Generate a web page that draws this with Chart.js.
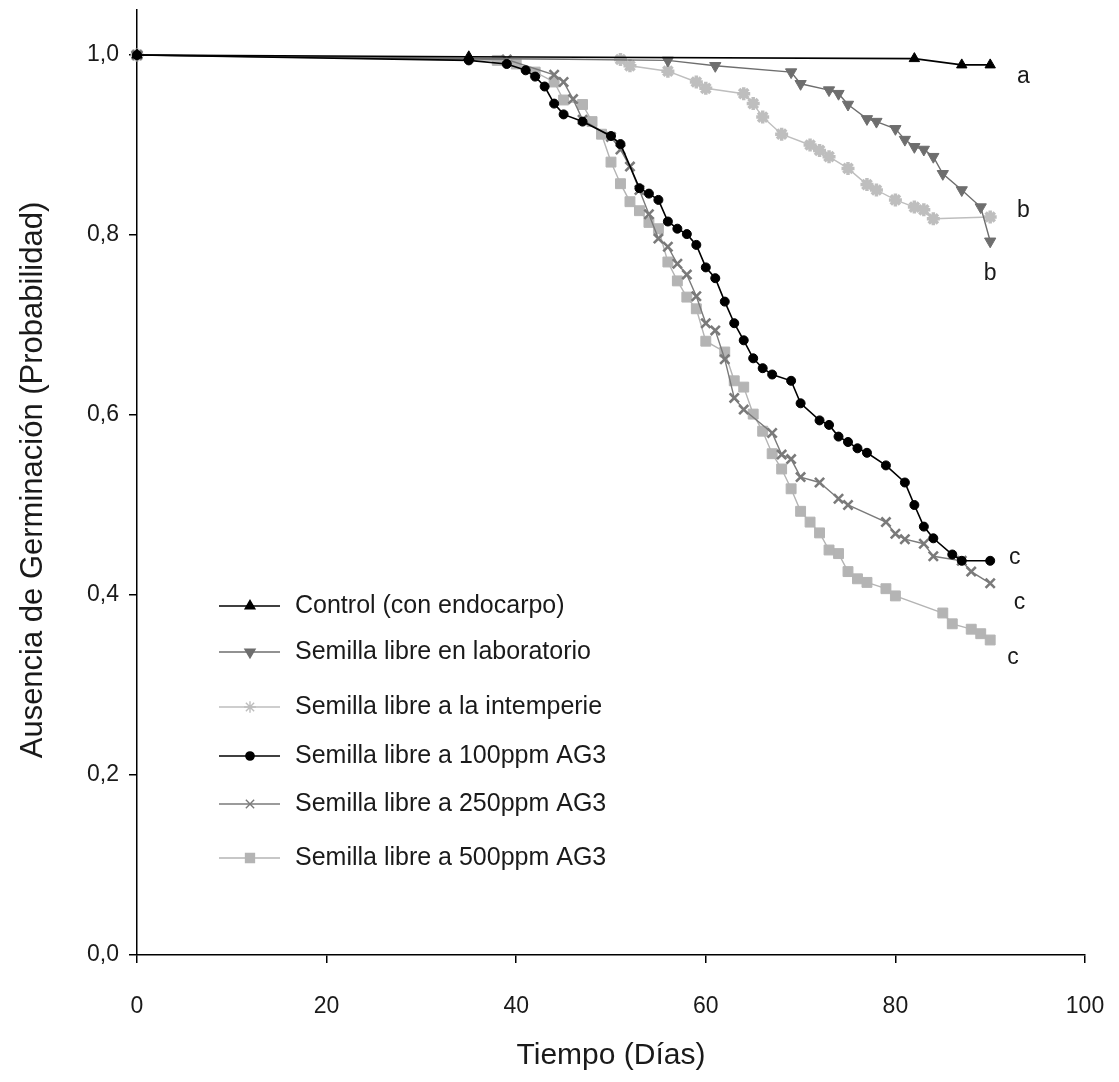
<!DOCTYPE html>
<html lang="es">
<head>
    <meta charset="UTF-8">
    <title>Ausencia de Germinación</title>
    <script src="https://cdn.jsdelivr.net/npm/chart.js"></script>
    <style>
        body { margin: 0; background: #fff; }
        #wrap { width: 1119px; height: 1082px; }
    </style>
</head>
<body>
    <div id="wrap"><canvas id="germChart" width="1119" height="1082"></canvas></div>
    <script>
        // Days and survival probabilities
        const controlDays = [0, 35, 82, 87, 90];
        const controlValues = [1.0, 0.998, 0.996, 0.989, 0.989];

        const labDays = [0, 56, 61, 69, 70, 73, 74, 75, 77, 78, 80, 81, 82, 83, 84, 85, 87, 89, 90];
        const labValues = [1.0, 0.994, 0.988, 0.981, 0.968, 0.961, 0.957, 0.945, 0.929, 0.926, 0.918, 0.906, 0.898, 0.895, 0.887, 0.868, 0.850, 0.831, 0.793];

        const outdoorDays = [0, 51, 52, 56, 59, 60, 64, 65, 66, 68, 71, 72, 73, 75, 77, 78, 80, 82, 83, 84, 90];
        const outdoorValues = [1.0, 0.995, 0.988, 0.982, 0.970, 0.963, 0.957, 0.946, 0.931, 0.912, 0.900, 0.894, 0.887, 0.874, 0.856, 0.850, 0.839, 0.831, 0.828, 0.818, 0.820];

        const ag100Days = [0, 35, 39, 41, 42, 43, 44, 45, 47, 50, 51, 53, 54, 55, 56, 57, 58, 59, 60, 61, 62, 63, 64, 65, 66, 67, 69, 70, 72, 73, 74, 75, 76, 77, 79, 81, 82, 83, 84, 86, 87, 90];
        const ag100Values = [1.0, 0.994, 0.990, 0.983, 0.976, 0.965, 0.946, 0.934, 0.926, 0.910, 0.901, 0.852, 0.846, 0.839, 0.815, 0.807, 0.801, 0.789, 0.764, 0.752, 0.726, 0.702, 0.683, 0.663, 0.652, 0.645, 0.638, 0.613, 0.594, 0.589, 0.576, 0.570, 0.563, 0.558, 0.544, 0.525, 0.500, 0.476, 0.463, 0.445, 0.438, 0.438];

        const ag250Days = [0, 39, 44, 45, 46, 47, 50, 51, 52, 53, 54, 55, 56, 57, 58, 59, 60, 61, 62, 63, 64, 67, 68, 69, 70, 72, 74, 75, 79, 80, 81, 83, 84, 87, 88, 90];
        const ag250Values = [1.0, 0.995, 0.978, 0.970, 0.951, 0.928, 0.909, 0.895, 0.876, 0.850, 0.823, 0.796, 0.787, 0.768, 0.756, 0.732, 0.702, 0.694, 0.662, 0.619, 0.606, 0.580, 0.556, 0.551, 0.531, 0.525, 0.507, 0.500, 0.481, 0.468, 0.462, 0.457, 0.443, 0.438, 0.426, 0.413];

        const ag500Days = [0, 38, 40, 42, 44, 45, 47, 48, 49, 50, 51, 52, 53, 54, 55, 56, 57, 58, 59, 60, 62, 63, 64, 65, 66, 67, 68, 69, 70, 71, 72, 73, 74, 75, 76, 77, 79, 80, 85, 86, 88, 89, 90];
        const ag500Values = [1.0, 0.994, 0.990, 0.981, 0.970, 0.950, 0.945, 0.926, 0.912, 0.881, 0.857, 0.837, 0.827, 0.814, 0.807, 0.770, 0.749, 0.731, 0.718, 0.682, 0.670, 0.638, 0.631, 0.601, 0.582, 0.557, 0.540, 0.518, 0.493, 0.481, 0.469, 0.450, 0.446, 0.426, 0.418, 0.414, 0.407, 0.399, 0.380, 0.368, 0.362, 0.357, 0.350];

        const seriesNames = [
            'Control (con endocarpo)',
            'Semilla libre en laboratorio',
            'Semilla libre a la intemperie',
            'Semilla libre a 100ppm AG3',
            'Semilla libre a 250ppm AG3',
            'Semilla libre a 500ppm AG3'
        ];
        const yTicks = [0, 0.2, 0.4, 0.6, 0.8, 1.0];

        // significance letters next to the curve ends
        const letterDays = [93.5, 93.5, 90, 92.6, 93.1, 92.4];
        const letterValues = [0.976, 0.827, 0.757, 0.441, 0.392, 0.330];
        const letterTexts = ['a', 'b', 'b', 'c', 'c', 'c'];

        const FONT = '"Liberation Sans", Arial, sans-serif';

        function toPoints(days, values) {
            return days.map((d, i) => ({ x: d, y: values[i] }));
        }

        const styles = [
            { color: '#000000', point: 'triangle', rot: 0, r: 6, bw: 1, lw: 1.6 },
            { color: '#6e6e6e', point: 'triangle', rot: 180, r: 6.5, bw: 1, lw: 1.4 },
            { color: '#bebebe', point: 'star', rot: 0, r: 6.5, bw: 3.5, lw: 1.4 },
            { color: '#000000', point: 'circle', rot: 0, r: 4.5, bw: 1, lw: 1.6 },
            { color: '#7a7a7a', point: 'crossRot', rot: 0, r: 6.5, bw: 2.6, lw: 1.4 },
            { color: '#b4b4b4', point: 'rect', rot: 0, r: 7, bw: 1, lw: 1.4 }
        ];

        const allData = [
            toPoints(controlDays, controlValues),
            toPoints(labDays, labValues),
            toPoints(outdoorDays, outdoorValues),
            toPoints(ag100Days, ag100Values),
            toPoints(ag250Days, ag250Values),
            toPoints(ag500Days, ag500Values)
        ];

        // draw order: lightest first so the dark curves stay on top
        const drawOrder = [5, 2, 4, 1, 3, 0];

        const datasets = allData.map((pts, i) => ({
            label: seriesNames[i],
            data: pts,
            borderColor: styles[i].color,
            backgroundColor: styles[i].color,
            pointBackgroundColor: styles[i].color,
            pointBorderColor: styles[i].color,
            pointStyle: styles[i].point,
            pointRotation: styles[i].rot,
            pointRadius: styles[i].r,
            pointBorderWidth: styles[i].bw,
            borderWidth: styles[i].lw,
            tension: 0,
            order: 10 - drawOrder.indexOf(i),
            clip: false
        }));

        // legend rows inside the plot
        const legendRowsY = [606, 652, 707, 756, 804, 858];

        const overlay = {
            id: 'overlay',
            afterDraw(chart) {
                const ctx = chart.ctx;
                const xs = chart.scales.x;
                const ys = chart.scales.y;
                ctx.save();

                // legend
                legendRowsY.forEach((y, i) => {
                    const s = styles[i];
                    ctx.strokeStyle = s.color;
                    ctx.lineWidth = s.lw;
                    ctx.beginPath();
                    ctx.moveTo(219, y);
                    ctx.lineTo(280, y);
                    ctx.stroke();
                    ctx.fillStyle = s.color;
                    Chart.helpers.drawPoint(ctx, {
                        pointStyle: s.point,
                        rotation: s.rot,
                        radius: s.r * 0.9,
                        borderWidth: s.bw
                    }, 250, y);
                    ctx.fillStyle = '#1a1a1a';
                    ctx.font = '25px ' + FONT;
                    ctx.textAlign = 'left';
                    ctx.textBaseline = 'middle';
                    ctx.fillText(seriesNames[i], 295, y);
                });

                // letters
                ctx.font = '23px ' + FONT;
                ctx.fillStyle = '#1a1a1a';
                ctx.textAlign = 'center';
                ctx.textBaseline = 'middle';
                letterTexts.forEach((t, i) => {
                    ctx.fillText(t, xs.getPixelForValue(letterDays[i]), ys.getPixelForValue(letterValues[i]));
                });

                // axis titles
                ctx.font = '30px ' + FONT;
                ctx.fillText('Tiempo (Días)', 611, 1056);
                ctx.translate(33, 480);
                ctx.rotate(-Math.PI / 2);
                ctx.font = '31px ' + FONT;
                ctx.fillText('Ausencia de Germinación (Probabilidad)', 0, 0);
                ctx.restore();
            }
        };

        new Chart(document.getElementById('germChart'), {
            type: 'line',
            data: { datasets },
            options: {
                responsive: false,
                animation: false,
                layout: { padding: { top: 8, right: 34, left: 0, bottom: 0 } },
                plugins: {
                    legend: { display: false },
                    tooltip: { enabled: false }
                },
                scales: {
                    x: {
                        type: 'linear',
                        min: 0,
                        max: 100,
                        afterFit: s => {
                            s.height = 127;
                            s.paddingLeft = 0;
                            s.paddingRight = 0;
                        },
                        border: { display: true, color: '#000', width: 1.5 },
                        grid: { drawOnChartArea: false, tickLength: 8, color: '#000', lineWidth: 1.5 },
                        ticks: { stepSize: 20, color: '#1a1a1a', font: { family: FONT, size: 23 }, padding: 30 }
                    },
                    y: {
                        min: 0,
                        max: 1.05,
                        afterFit: s => {
                            s.width = 137;
                            s.paddingTop = 0;
                            s.paddingBottom = 0;
                        },
                        afterBuildTicks: s => { s.ticks = yTicks.map(v => ({ value: v })); },
                        border: { display: true, color: '#000', width: 1.5 },
                        grid: { drawOnChartArea: false, tickLength: 8, color: '#000', lineWidth: 1.5 },
                        ticks: {
                            color: '#1a1a1a',
                            font: { family: FONT, size: 23 },
                            padding: 10,
                            callback: v => v.toFixed(1).replace('.', ',')
                        }
                    }
                }
            },
            plugins: [overlay]
        });
    </script>
</body>
</html>
